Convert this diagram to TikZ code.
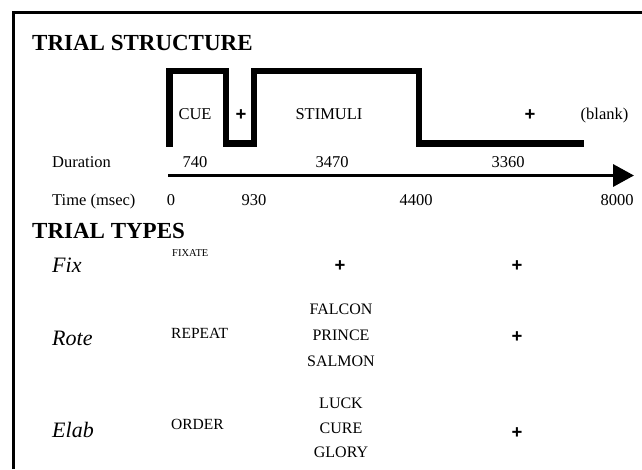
\documentclass[tikz,border=0pt]{standalone}
\usepackage{fontspec}
\setmainfont{Liberation Serif}
\newfontfamily\plusfont{Liberation Sans}
\usetikzlibrary{arrows.meta}
\begin{document}
\begin{tikzpicture}[x=1pt,y=-1pt,
  txt/.style={inner sep=0pt, anchor=base, font=\fontsize{16.5}{16.5}\selectfont},
  ltxt/.style={inner sep=0pt, anchor=base west, font=\fontsize{16.5}{16.5}\selectfont},
  heading/.style={inner sep=0pt, anchor=base west, font=\fontsize{23}{23}\selectfont\bfseries},
  ttype/.style={inner sep=0pt, anchor=base west, font=\fontsize{22}{22}\selectfont\itshape},
  cuetxt/.style={inner sep=0pt, anchor=base west, font=\fontsize{15.5}{15.5}\selectfont},
  word/.style={inner sep=0pt, anchor=base, font=\fontsize{16}{16}\selectfont},
  plus/.style={inner sep=0pt, anchor=base, font=\fontsize{18.5}{18.5}\plusfont\bfseries},
  wave/.style={line width=6.6pt, line join=miter},
  timeline/.style={line width=3.5pt, -{Triangle[length=21pt,width=22pt]}},
  frameline/.style={line width=2.6pt}
]
\useasboundingbox (0,0) rectangle (642,469);
\fill[white] (0,0) rectangle (642,469);
% frame
\coordinate (fb) at (13.5,469);
\coordinate (fc) at (13.5,12.2);
\coordinate (fr) at (642,12.2);
\draw[frameline] (fb) -- (fc) -- (fr);
% headings
\node[heading] (hs) at (32,50.5) {TRIAL STRUCTURE};
\node[heading] (ht) at (32,238.3) {TRIAL TYPES};
% waveform
\draw[wave] (169.5,146.7) -- (169.5,71) -- (226,71) -- (226,143.3) -- (254,143.3)
  -- (254,71) -- (419,71) -- (419,143.3) -- (584,143.3);
\node[txt] (cue) at (195,119.6) {CUE};
\node[plus] (p1) at (241,120.6) {+};
\node[txt] (stim) at (329,119.6) {STIMULI};
\node[plus] (p2) at (530,120.6) {+};
\node[txt] (blank) at (604.5,119.6) {(blank)};
% time line
\coordinate (ta) at (168,175.5);
\coordinate (tb) at (634,175.5);
\draw[timeline] (ta) -- (tb);
\node[ltxt] (dur) at (52,167.3) {Duration};
\node[txt] (d1) at (195,167.3) {740};
\node[txt] (d2) at (332,167.3) {3470};
\node[txt] (d3) at (508,167.3) {3360};
\node[ltxt] (time) at (52,205) {Time (msec)};
\node[txt] (t0) at (171,205) {0};
\node[txt] (t1) at (254,205) {930};
\node[txt] (t2) at (416,205) {4400};
\node[txt] (t3) at (617,205) {8000};
% trial types
\node[ttype] (fix) at (52,272) {Fix};
\node[inner sep=0pt, anchor=base west, font=\fontsize{10.5}{10.5}\selectfont] (fixate) at (172,256.7) {FIXATE};
\node[plus] (fp1) at (340,271.7) {+};
\node[plus] (fp2) at (517,271.7) {+};
\node[ttype] (rote) at (52,345) {Rote};
\node[cuetxt] (repeat) at (171,338.3) {REPEAT};
\node[word] (w1) at (341,314.3) {FALCON};
\node[word] (w2) at (341,340.3) {PRINCE};
\node[word] (w3) at (341,366.3) {SALMON};
\node[plus] (rp) at (517,342.7) {+};
\node[ttype] (elab) at (52,437) {Elab};
\node[cuetxt] (order) at (171,429.3) {ORDER};
\node[word] (w4) at (341,408.3) {LUCK};
\node[word] (w5) at (341,433.3) {CURE};
\node[word] (w6) at (341,457.3) {GLORY};
\node[plus] (ep) at (517,438.7) {+};
\end{tikzpicture}
\end{document}
